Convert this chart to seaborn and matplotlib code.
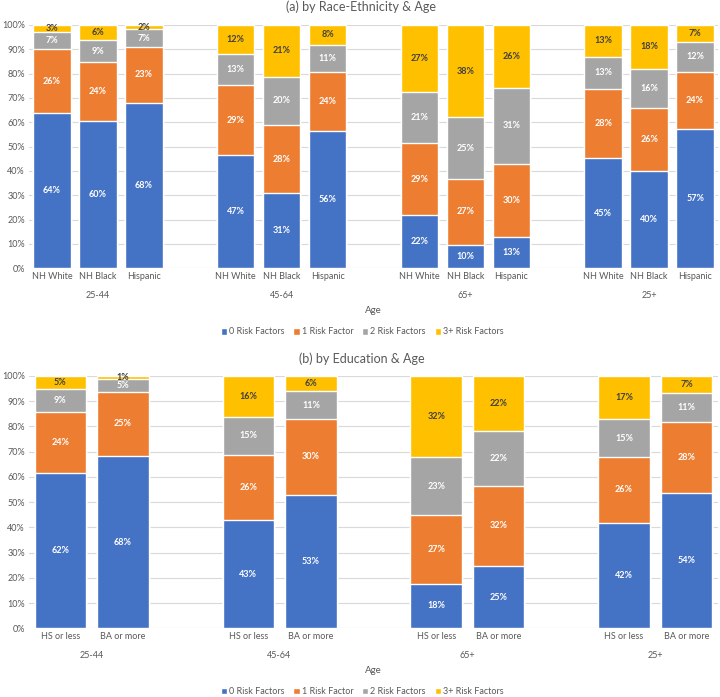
import numpy as np
import pandas as pd
import matplotlib.pyplot as plt
from matplotlib.patches import Patch
import seaborn as sns

factors = ["0 Risk Factors", "1 Risk Factor", "2 Risk Factors", "3+ Risk Factors"]
colors = ["#4472C4", "#ED7D31", "#A5A5A5", "#FFC000"]
ages = ["25-44", "45-64", "65+", "25+"]

# (a) race-ethnicity, per age group: NH White, NH Black, Hispanic
race_groups = ["NH White", "NH Black", "Hispanic"]
race_0 = [63.9, 60.4, 68.1, 46.6, 30.9, 56.4, 22.0, 9.6, 12.9, 45.3, 40.0, 57.2]
race_1 = [26.1, 24.2, 22.9, 28.7, 28.0, 24.4, 29.4, 27.2, 30.1, 28.4, 26.0, 23.6]
race_2 = [7.1, 9.2, 7.2, 12.8, 19.9, 11.0, 21.2, 25.2, 31.1, 13.3, 16.0, 12.1]
race_3 = [2.9, 6.2, 1.8, 11.9, 21.2, 8.2, 27.4, 38.0, 25.9, 13.0, 18.0, 7.1]

# (b) education, per age group: HS or less, BA or more
edu_groups = ["HS or less", "BA or more"]
edu_0 = [61.7, 68.4, 42.8, 53.0, 17.7, 24.8, 41.9, 53.8]
edu_1 = [24.0, 25.4, 26.0, 29.8, 27.2, 31.6, 25.9, 28.1]
edu_2 = [9.0, 5.0, 15.0, 11.3, 22.9, 21.8, 15.0, 11.2]
edu_3 = [5.3, 1.2, 16.2, 5.9, 32.2, 21.8, 17.2, 6.9]

sns.set_theme(style="white")
plt.rcParams["font.family"] = ["Lato", "DejaVu Sans"]
txt = "#595959"

fig = plt.figure(figsize=(7.2, 6.97), dpi=100)
ax_a = fig.add_axes([29/720, 1-268.3/697, 689/720, 243.3/697])
ax_b = fig.add_axes([29/720, 1-628.3/697, 689/720, 252.3/697])


def make_df(groups, series):
    rows = []
    k = 0
    for age in ages:
        for g in groups:
            for f, vals in zip(factors, series):
                rows.append({"age": age, "grp": g, "key": age + "|" + g, "factor": f, "value": vals[k]})
            k += 1
    df = pd.DataFrame(rows)
    df["cum"] = df.groupby("key")["value"].cumsum()
    return df


def draw(ax, groups, series, width):
    df = make_df(groups, series)
    order = []
    for i, age in enumerate(ages):
        order += [age + "|" + g for g in groups]
        if i < len(ages) - 1:
            order.append("gap%d" % i)
    # draw from the top layer down so each segment overlays the next
    for f, c in reversed(list(zip(factors, colors))):
        sns.barplot(data=df[df.factor == f], x="key", y="cum", order=order, color=c,
                    width=width, errorbar=None, saturation=1, ax=ax)
    pos = {k: i for i, k in enumerate(order)}
    for _, r in df.iterrows():
        tc = "#404040" if r["factor"] == factors[3] else "white"
        ax.text(pos[r["key"]], r["cum"] - r["value"] / 2, f"{r['value']:.0f}%",
                ha="center", va="center", fontsize=6.5, fontweight="bold", color=tc)
    keys = [k for k in order if not k.startswith("gap")]
    ax.set_xticks([pos[k] for k in keys])
    ax.set_xticklabels([k.split("|")[1] for k in keys], fontsize=6.5, color=txt)
    for age in ages:
        xs = [pos[age + "|" + g] for g in groups]
        ax.annotate(age, xy=(np.mean(xs), 0), xycoords=("data", "axes fraction"),
                    xytext=(0, -19.8), textcoords="offset points",
                    ha="center", va="center", fontsize=6.5, color=txt)
    ax.annotate("Age", xy=(0.5, 0), xycoords="axes fraction", xytext=(0, -30.2),
                textcoords="offset points", ha="center", va="center", fontsize=7, color=txt)
    ax.set_xlim(-0.5, len(order) - 0.5)
    ax.set_ylim(0, 100)
    ax.set_yticks(range(0, 101, 10))
    ax.set_yticklabels([f"{v}%" for v in range(0, 101, 10)], fontsize=6.5, color=txt)
    ax.tick_params(axis="both", length=0, pad=3)
    ax.yaxis.grid(True, color="#D9D9D9", lw=0.8)
    ax.set_axisbelow(True)
    for s in ax.spines.values():
        s.set_visible(False)
    ax.set_xlabel("")
    ax.set_ylabel("")


draw(ax_a, race_groups, [race_0, race_1, race_2, race_3], 0.815)
draw(ax_b, edu_groups, [edu_0, edu_1, edu_2, edu_3], 0.82)

fig.text(0.502, 1-7/697, "(a) by Race-Ethnicity & Age", ha="center", va="center", fontsize=9, color=txt)
fig.text(0.502, 1-359/697, "(b) by Education & Age", ha="center", va="center", fontsize=9, color=txt)

handles = [Patch(facecolor=c, label=f) for f, c in zip(factors, colors)]
for yc in [1-332/697, 1-691.7/697]:
    fig.legend(handles=handles, loc="center", bbox_to_anchor=(0.503, yc), ncol=4, frameon=False,
               fontsize=6.5, labelcolor=txt, handlelength=0.7, handleheight=0.7,
               handletextpad=0.2, columnspacing=1.0)

fig.savefig("out.png", dpi=100)
